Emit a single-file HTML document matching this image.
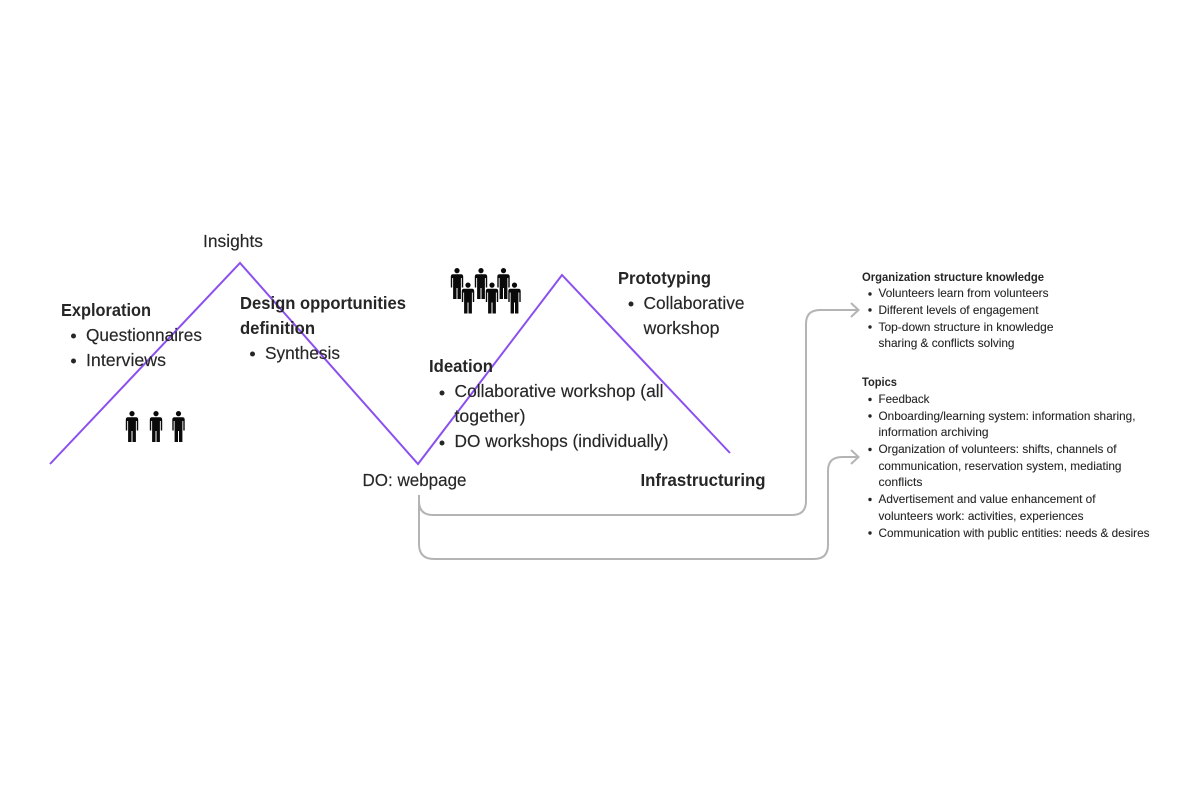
<!DOCTYPE html>
<html><head><meta charset="utf-8"><style>
html,body{margin:0;padding:0;background:#fff;width:1200px;height:788px;overflow:hidden}
svg{display:block;filter:blur(0.35px)}
text{font-family:"Liberation Sans",sans-serif;fill:#262626}
.m{font-size:17.3px;stroke:#262626;stroke-width:.15px}
.b{font-size:17.3px;font-weight:bold}
.s{font-size:11.6px;stroke:#262626;stroke-width:.1px}
.sb{font-size:11.6px;font-weight:bold}
</style></head><body>
<svg width="1200" height="788" viewBox="0 0 1200 788" xmlns="http://www.w3.org/2000/svg">
<defs>
<g id="p" fill="#0a0a0a">
<circle cx="0" cy="2.6" r="2.6"/>
<path d="M-4 6.2H4Q6.2 6.2 6.2 8.6V19.5H4.8V10H3.9V31H0.5V20H-0.5V31H-3.9V10H-4.8V19.5H-6.2V8.6Q-6.2 6.2 -4 6.2Z"/>
</g>
</defs>
<path d="M50 464L240 263L418 464L562 275L730 453" fill="none" stroke="#8b4ff0" stroke-width="2"/>
<g fill="none" stroke="#b4b4b4" stroke-width="2">
<path d="M419 495V501Q419 515 433 515H792Q806 515 806 501V324Q806 310 820 310H858"/>
<path d="M851 303L858.500 310L851 317"/>
<path d="M419 495V544Q419 559 434 559H814Q828 559 828 545V471Q828 457 842 457H858"/>
<path d="M851 450L858.500 457L851 464"/>
</g>
<use href="#p" x="132" y="411"/><use href="#p" x="156" y="411"/><use href="#p" x="178.500" y="411"/>
<use href="#p" x="457" y="268"/><use href="#p" x="481" y="268"/><use href="#p" x="503.500" y="268"/>
<use href="#p" x="468" y="282.500"/><use href="#p" x="492" y="282.500"/><use href="#p" x="514.500" y="282.500"/>
<g fill="#262626">
<circle cx="73.500" cy="336" r="2.500"/><circle cx="73.500" cy="361" r="2.500"/>
<circle cx="252.500" cy="354" r="2.500"/>
<circle cx="442" cy="393" r="2.500"/><circle cx="442" cy="443" r="2.500"/>
<circle cx="631" cy="304" r="2.500"/>
<circle cx="870" cy="294" r="1.700"/><circle cx="870" cy="310" r="1.700"/><circle cx="870" cy="327" r="1.700"/>
<circle cx="870" cy="399.500" r="1.700"/><circle cx="870" cy="416" r="1.700"/><circle cx="870" cy="449.500" r="1.700"/><circle cx="870" cy="499.500" r="1.700"/><circle cx="870" cy="533" r="1.700"/>
</g>
<g>
<text class="m" x="203" y="247" textLength="60" lengthAdjust="spacingAndGlyphs">Insights</text>
<text class="b" x="61" y="316" textLength="90" lengthAdjust="spacingAndGlyphs">Exploration</text>
<text class="m" x="86" y="341" textLength="116" lengthAdjust="spacingAndGlyphs">Questionnaires</text>
<text class="m" x="86" y="366" textLength="80" lengthAdjust="spacingAndGlyphs">Interviews</text>
<text class="b" x="240" y="309" textLength="166" lengthAdjust="spacingAndGlyphs">Design opportunities</text>
<text class="b" x="240" y="334" textLength="75" lengthAdjust="spacingAndGlyphs">definition</text>
<text class="m" x="265" y="359" textLength="75" lengthAdjust="spacingAndGlyphs">Synthesis</text>
<text class="b" x="429" y="372" textLength="64" lengthAdjust="spacingAndGlyphs">Ideation</text>
<text class="m" x="454.500" y="397" textLength="209" lengthAdjust="spacingAndGlyphs">Collaborative workshop (all</text>
<text class="m" x="454.500" y="422" textLength="71" lengthAdjust="spacingAndGlyphs">together)</text>
<text class="m" x="454.500" y="447" textLength="214" lengthAdjust="spacingAndGlyphs">DO workshops (individually)</text>
<text class="m" x="362.500" y="486" textLength="104" lengthAdjust="spacingAndGlyphs">DO: webpage</text>
<text class="b" x="640.500" y="486" textLength="125" lengthAdjust="spacingAndGlyphs">Infrastructuring</text>
<text class="b" x="618" y="284" textLength="93" lengthAdjust="spacingAndGlyphs">Prototyping</text>
<text class="m" x="643.500" y="309" textLength="101" lengthAdjust="spacingAndGlyphs">Collaborative</text>
<text class="m" x="643.500" y="334" textLength="76" lengthAdjust="spacingAndGlyphs">workshop</text>
<text class="sb" x="862" y="281" textLength="182" lengthAdjust="spacingAndGlyphs">Organization structure knowledge</text>
<text class="s" x="878.500" y="297" textLength="170" lengthAdjust="spacingAndGlyphs">Volunteers learn from volunteers</text>
<text class="s" x="878.500" y="314" textLength="160" lengthAdjust="spacingAndGlyphs">Different levels of engagement</text>
<text class="s" x="878.500" y="331" textLength="175" lengthAdjust="spacingAndGlyphs">Top-down structure in knowledge</text>
<text class="s" x="878.500" y="347" textLength="136" lengthAdjust="spacingAndGlyphs">sharing &amp; conflicts solving</text>
<text class="sb" x="862" y="386" textLength="35" lengthAdjust="spacingAndGlyphs">Topics</text>
<text class="s" x="878.500" y="403" textLength="51" lengthAdjust="spacingAndGlyphs">Feedback</text>
<text class="s" x="878.500" y="420" textLength="257" lengthAdjust="spacingAndGlyphs">Onboarding/learning system: information sharing,</text>
<text class="s" x="878.500" y="436" textLength="110" lengthAdjust="spacingAndGlyphs">information archiving</text>
<text class="s" x="878.500" y="453" textLength="238" lengthAdjust="spacingAndGlyphs">Organization of volunteers: shifts, channels of</text>
<text class="s" x="878.500" y="470" textLength="243" lengthAdjust="spacingAndGlyphs">communication, reservation system, mediating</text>
<text class="s" x="878.500" y="486" textLength="44" lengthAdjust="spacingAndGlyphs">conflicts</text>
<text class="s" x="878.500" y="503" textLength="217" lengthAdjust="spacingAndGlyphs">Advertisement and value enhancement of</text>
<text class="s" x="878.500" y="520" textLength="205" lengthAdjust="spacingAndGlyphs">volunteers work: activities, experiences</text>
<text class="s" x="878.500" y="537" textLength="271" lengthAdjust="spacingAndGlyphs">Communication with public entities: needs &amp; desires</text>
</g>
</svg>
</body></html>
